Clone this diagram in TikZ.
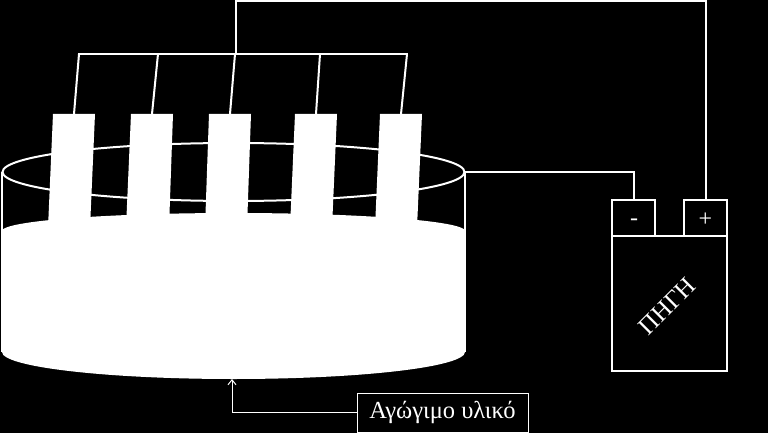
\documentclass[tikz,border=0pt]{standalone}
\usepackage{fontspec}
\setmainfont{Liberation Serif}
\usetikzlibrary{arrows.meta, positioning}

\tikzset{
  wire/.style={draw=white, line width=2pt, line join=miter},
  thinwire/.style={draw=white, line width=1pt},
  cell/.style={draw=white, line width=2pt, minimum width=43pt, minimum height=36pt, inner sep=0pt, outer sep=0pt},
  signlabel/.style={text=white, inner sep=0pt}
}

\begin{document}
\begin{tikzpicture}[x=1pt, y=-1pt]
  \useasboundingbox (0,0) rectangle (768,433);
  \fill[black] (0,0) rectangle (768,433);

  % Vessel rim and walls
  \draw[wire] (233.5,172) ellipse (231 and 29);
  \draw[white, line width=1.2pt] (2,172) -- (2,352);
  \draw[white, line width=1.2pt] (465,172) -- (465,352);

  % Conducting material in the vessel
  \fill[white] (2,231) arc[start angle=180, end angle=360, x radius=231.5, y radius=18]
    -- (465,352) arc[start angle=0, end angle=180, x radius=231.5, y radius=27] -- cycle;

  % Electrodes and their wires up to the bus
  \foreach \n/\xa/\xb/\xc/\xd/\xe in {1/53/95/90/48/79, 2/131/173/169/126/158, 3/209/251/247/205/235, 4/295/337/332/290/320, 5/380/422/417/375/407} {
    \fill[white] (\xa,114) -- (\xb,114) -- (\xc,228) -- (\xd,228) -- cycle;
    \coordinate (top\n) at ({(\xa+\xb)/2},114);
    \coordinate (bus\n) at (\xe,54);
    \draw[wire] (top\n) -- (bus\n);
  }
  \draw[wire, line cap=rect] (bus1) -- (bus5);

  % Power source
  \node[draw=white, line width=2pt, minimum width=115pt, minimum height=135pt, inner sep=0pt, outer sep=0pt] (body) at (669.5,303.5) {};
  \node[cell, anchor=south west] (minus) at (body.north west) {};
  \node[cell, anchor=south east] (plus) at (body.north east) {};
  \node[signlabel, font=\fontsize{24}{24}\selectfont] (minussign) at (634,222) {-};
  \node[signlabel, font=\fontsize{24}{24}\selectfont] (plussign) at (705.5,220) {+};
  \node[text=white, rotate=45, inner sep=0pt, font=\fontsize{25}{25}\selectfont] (source) at (667,306) {ΠΗΓΗ};

  % Connections to the source
  \coordinate (rim) at (465,172);
  \coordinate (feed) at (236,54);
  \coordinate (corner) at (236,1);
  \draw[wire] (rim) -| (minus.north);
  \draw[wire] (feed) -- (corner) -| (plus.north);

  % Label of the material
  \node[thinwire, minimum width=171pt, minimum height=39pt, inner sep=0pt, text=white, font=\fontsize{24.5}{24.5}\selectfont] (material) at (442.5,412.5) {Αγώγιμο υλικό};
  \coordinate (bottom) at (232,379);
  \draw[thinwire, -{Straight Barb[length=5pt, width=8pt]}] (material.west) -| (bottom);
\end{tikzpicture}
\end{document}
